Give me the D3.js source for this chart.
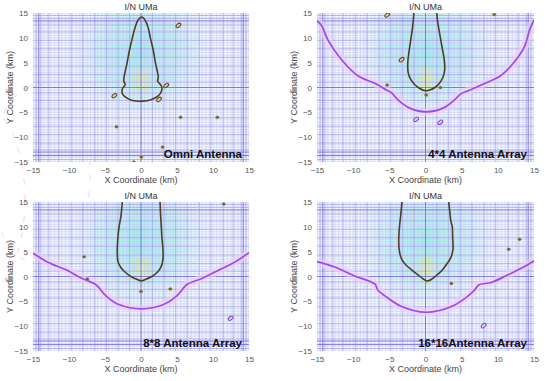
<!DOCTYPE html>
<html lang="en">
<head>
<meta charset="UTF-8">
<title>I/N UMa contours</title>
<script src="https://d3js.org/d3.v7.min.js"></script>
<style>
  body, html { margin: 0; padding: 0; background: #fff; overflow: hidden; }
  svg { display: block; font-family: "Liberation Sans", Arial, sans-serif; }
  .tick text { fill: #555; font-size: 8px; }
</style>
</head>
<body>
<svg width="550" height="381"></svg>
<script>
// ---- data (km) ----
const tickValues = [-15, -10, -5, 0, 5, 10, 15];
const panelLabels = ["Omni Antenna", "4*4 Antenna Array", "8*8 Antenna Array", "16*16Antenna Array"];

// I/N threshold contour (dark) per panel
const lobeOmni = [[0.1,14.2],[0.6,13.5],[1.0,12],[1.3,10],[1.7,7.5],[2.0,5],[2.3,3],[2.4,2],[2.3,1.3],[2.7,0.6],[2.9,0],[2.8,-0.9],[2.3,-1.8],[1.3,-2.5],[0.2,-2.75],[-1.2,-2.6],[-2.1,-2.0],[-2.6,-1.2],[-2.6,-0.3],[-2.2,0.6],[-2.4,1.3],[-2.3,2.5],[-2.0,4.5],[-1.6,7.5],[-1.2,10],[-0.8,12.2],[-0.4,13.6]];
const lobe4 = [[-1.6,15],[-1.8,12],[-2.0,10],[-2.3,7],[-2.45,5],[-2.4,3],[-2.1,1.8],[-1.5,0.6],[-0.8,-0.2],[0,-0.65],[0.6,-0.5],[1.3,0],[1.9,0.8],[2.4,2],[2.65,3.5],[2.6,5.5],[2.3,8],[2.0,10.5],[1.7,13],[1.55,15]];
const lobe8 = [[-2.6,15],[-2.8,12],[-3.05,10],[-3.25,7],[-3.3,5],[-3.2,3],[-2.8,1.8],[-2.3,1],[-1.4,0],[-0.5,-0.6],[0.05,-0.85],[0.6,-0.6],[1.5,0],[2.3,0.9],[2.8,2],[3.05,3.5],[3.05,5.5],[2.9,8],[2.8,10.5],[2.7,13],[2.65,15]];
const lobe16 = [[-3.25,15],[-3.45,12],[-3.6,10],[-3.7,7],[-3.6,5],[-3.3,3.5],[-2.7,2.3],[-1.8,1.2],[-1.0,0.3],[-0.3,-0.5],[0.2,-0.9],[0.8,-0.6],[1.5,0.2],[2.2,1.1],[2.9,2.4],[3.5,3.8],[3.8,5.5],[3.75,8],[3.7,10],[3.5,11.2],[3.4,12.5],[3.2,15]];

// bowl-shaped contour (purple) for the arrays
const bowl4 = [[-15,13.5],[-14.3,12.3],[-13.5,9.6],[-11.6,5.6],[-9.3,2.3],[-7.0,0.85],[-5.4,-0.5],[-4.7,-1.05],[-3.8,-2.5],[-2.4,-4.0],[0.1,-4.9],[2.65,-4.0],[4.0,-2.5],[4.95,-1.2],[5.9,-0.65],[7.7,0.5],[10.5,2.5],[12.3,5.2],[13.7,8.3],[14.4,11.6],[15,13.6]];
const bowl8 = [[-15,4.7],[-12.7,2.7],[-10.4,1.35],[-8.3,-0.3],[-6.4,-1.5],[-6.0,-2.0],[-4.8,-4.0],[-3.0,-5.7],[0.05,-6.5],[3.05,-5.7],[4.9,-4.0],[6.1,-2.0],[6.5,-1.5],[8.6,-0.3],[10.9,1.35],[12.8,2.7],[15,4.8]];
const bowl16 = [[-15,3.0],[-12.55,1.9],[-9.8,0.1],[-7.0,-1.5],[-6.6,-2.7],[-5.6,-3.9],[-3.3,-6.05],[0.1,-7.2],[3.6,-6.05],[5.9,-3.9],[6.8,-2.7],[7.35,-1.7],[9.1,-1.2],[11.4,0.34],[13.7,2.0],[15,3.2]];

// isolated spots [x, y, kind]  kind: d = dot, o = ring, p = pink ring
const spotsOmni = [[5.2,12.5,"o"],[3.5,0.4,"o"],[2.5,-2.4,"o"],[-3.7,-1.65,"o"],[-3.4,-7.9,"d"],[5.5,-6.0,"d"],[10.6,-6.0,"d"],[3.0,-12.0,"d"],[0.05,-14.0,"d"],[-1.0,-15,"d"]];
const spots4 = [[-5.3,14.6,"o"],[9.5,14.7,"d"],[-3.3,5.6,"o"],[-5.3,0.5,"d"],[0.1,-1.5,"d"],[2.05,0.0,"d"],[-1.3,-6.4,"p"],[2.05,-7.0,"p"]];
const spots8 = [[11.5,14.6,"d"],[-7.9,4.0,"d"],[-7.45,-0.5,"d"],[0,-3.0,"d"],[4.07,-2.5,"d"],[12.45,-8.4,"p"]];
const spots16 = [[11.5,5.5,"d"],[13.0,7.5,"d"],[3.57,-1.4,"d"],[8.04,-9.9,"p"]];

// heavier mesh lines (km)
const meshMidX = [-14.6,-13.9,-12.8,-11.4,-9.7,-8.1,-6.4,-4.8,-3.2,-1.6,1.6,3.2,4.8,6.4,8.1,9.7,11.4,12.8,13.9,14.6];
const meshMidY = [14.5,13.9,12.6,11.2,9.5,7.8,6.1,4.3,2.6,1.1,-1.1,-2.6,-4.3,-6.1,-7.8,-9.5,-11.2,-12.6,-14.5];
const meshDarkX = [-14.2,0,14.2];
const meshDarkY = [13.4,0,-13.0,-13.7];

const lobes = [lobeOmni, lobe4, lobe8, lobe16];
const bowls = [null, bowl4, bowl8, bowl16];
const spots = [spotsOmni, spots4, spots8, spots16];

// ---- layout ----
const svg = d3.select("svg");
const boxes = [
  {x0: 33, x1: 249, y0: 13, y1: 162},
  {x0: 317, x1: 534, y0: 13, y1: 162},
  {x0: 33, x1: 249, y0: 202, y1: 351},
  {x0: 317, x1: 534, y0: 202, y1: 351}
];

const defs = svg.append("defs");
const gCyan = defs.append("radialGradient").attr("id", "cyanGlow");
gCyan.append("stop").attr("offset", "0%").attr("stop-color", "#9ff0ea").attr("stop-opacity", 1);
gCyan.append("stop").attr("offset", "55%").attr("stop-color", "#bff4f0").attr("stop-opacity", 0.8);
gCyan.append("stop").attr("offset", "100%").attr("stop-color", "#e6fafb").attr("stop-opacity", 0);
const gYel = defs.append("radialGradient").attr("id", "yelGlow");
gYel.append("stop").attr("offset", "0%").attr("stop-color", "#f0f59a").attr("stop-opacity", 0.9);
gYel.append("stop").attr("offset", "55%").attr("stop-color", "#d4f2b0").attr("stop-opacity", 0.6);
gYel.append("stop").attr("offset", "100%").attr("stop-color", "#c8f4e0").attr("stop-opacity", 0);

// faint pink streaks left of / below the first panel
const streaks = svg.append("g").attr("fill", "none").attr("stroke", "#f7a0e6")
  .attr("stroke-width", 0.9).attr("stroke-dasharray", "6,10").attr("opacity", 0.6);
[[-20, 200, 45, 95], [40, 175, 50, 90]].forEach(([cx, cy, rx, ry]) => {
  streaks.append("ellipse").attr("cx", cx).attr("cy", cy).attr("rx", rx).attr("ry", ry);
});

boxes.forEach((b, i) => {
  const x = d3.scaleLinear().domain([-15, 15]).range([b.x0, b.x1]);
  const y = d3.scaleLinear().domain([-15, 15]).range([b.y1, b.y0]);
  const g = svg.append("g");

  defs.append("clipPath").attr("id", "clip" + i)
    .append("rect").attr("x", b.x0).attr("y", b.y0)
    .attr("width", b.x1 - b.x0).attr("height", b.y1 - b.y0);

  const plot = g.append("g").attr("clip-path", `url(#clip${i})`);
  plot.append("rect").attr("x", b.x0).attr("y", b.y0)
    .attr("width", b.x1 - b.x0).attr("height", b.y1 - b.y0).attr("fill", "#f1fbfd");

  // field colouring
  plot.append("ellipse").attr("cx", x(0)).attr("cy", y(7))
    .attr("rx", x(10) - x(0)).attr("ry", y(-7) - y(7)).attr("fill", "url(#cyanGlow)");
  plot.append("ellipse").attr("cx", x(0.2)).attr("cy", y(1.5))
    .attr("rx", x(1.8) - x(0)).attr("ry", y(-2.5) - y(1.5)).attr("fill", "url(#yelGlow)");

  // mesh
  const fine = d3.range(-15, 15.01, 0.5);
  const mesh = plot.append("g");
  fine.forEach(v => {
    mesh.append("line").attr("x1", x(v)).attr("x2", x(v)).attr("y1", b.y0).attr("y2", b.y1)
      .attr("stroke", "#c6c0f5").attr("stroke-width", 0.5);
    mesh.append("line").attr("y1", y(v)).attr("y2", y(v)).attr("x1", b.x0).attr("x2", b.x1)
      .attr("stroke", "#c6c0f5").attr("stroke-width", 0.5);
  });
  meshMidX.forEach(v => mesh.append("line").attr("x1", x(v)).attr("x2", x(v))
    .attr("y1", b.y0).attr("y2", b.y1).attr("stroke", "#a098ec").attr("stroke-width", 0.6));
  meshMidY.forEach(v => mesh.append("line").attr("y1", y(v)).attr("y2", y(v))
    .attr("x1", b.x0).attr("x2", b.x1).attr("stroke", "#a098ec").attr("stroke-width", 0.6));
  meshDarkX.forEach(v => mesh.append("line").attr("x1", x(v)).attr("x2", x(v))
    .attr("y1", b.y0).attr("y2", b.y1).attr("stroke", "#6d62dc").attr("stroke-width", 0.8));
  meshDarkY.forEach(v => mesh.append("line").attr("y1", y(v)).attr("y2", y(v))
    .attr("x1", b.x0).attr("x2", b.x1).attr("stroke", "#6d62dc").attr("stroke-width", 0.8));

  // contours
  if (bowls[i]) {
    const bl = d3.line().x(d => x(d[0])).y(d => y(d[1])).curve(d3.curveCatmullRom);
    plot.append("path").attr("d", bl(bowls[i])).attr("fill", "none")
      .attr("stroke", "#f7cdf0").attr("stroke-width", 8).attr("opacity", 0.6);
    plot.append("path").attr("d", bl(bowls[i])).attr("fill", "none")
      .attr("stroke", "#8b52ee").attr("stroke-width", 1.7);
  }
  const ll = d3.line().x(d => x(d[0])).y(d => y(d[1]))
    .curve(i === 0 ? d3.curveCatmullRomClosed : d3.curveCatmullRom);
  plot.append("path").attr("d", ll(lobes[i])).attr("fill", "none")
    .attr("stroke", "#4d3d22").attr("stroke-width", 1.6);

  spots[i].forEach(([sx, sy, k]) => {
    if (k === "d") {
      plot.append("ellipse").attr("cx", x(sx)).attr("cy", y(sy)).attr("rx", 1.8).attr("ry", 1.5)
        .attr("fill", "#6b5a35").attr("stroke", "#b9a66a").attr("stroke-width", 0.5);
    } else {
      plot.append("ellipse").attr("cx", x(sx)).attr("cy", y(sy)).attr("rx", 2.8).attr("ry", 1.6)
        .attr("transform", `rotate(-40 ${x(sx)} ${y(sy)})`)
        .attr("fill", k === "p" ? "#e2d6f6" : "#e0d49a")
        .attr("stroke", k === "p" ? "#7a48d8" : "#5a4528").attr("stroke-width", 1);
    }
  });

  // axes
  const ax = g.append("g").attr("transform", `translate(0,${b.y1 + 3})`)
    .call(d3.axisBottom(x).tickValues(tickValues).tickSize(0).tickPadding(2));
  ax.select(".domain").remove();
  const ay = g.append("g").attr("transform", `translate(${b.x0 - 3},0)`)
    .call(d3.axisLeft(y).tickValues(tickValues).tickSize(0).tickPadding(2));
  ay.select(".domain").remove();

  g.append("text").attr("x", (b.x0 + b.x1) / 2).attr("y", b.y0 - 3)
    .attr("text-anchor", "middle").attr("font-size", 9).attr("fill", "#333").text("I/N UMa");
  g.append("text").attr("x", (b.x0 + b.x1) / 2).attr("y", b.y1 + 21)
    .attr("text-anchor", "middle").attr("font-size", 9).attr("fill", "#444").text("X Coordinate (km)");
  g.append("text").attr("transform", `translate(${b.x0 - 20},${(b.y0 + b.y1) / 2}) rotate(-90)`)
    .attr("text-anchor", "middle").attr("font-size", 9).attr("fill", "#444").text("Y Coordinate (km)");

  g.append("text").attr("x", b.x1 - 7).attr("y", b.y1 - 4)
    .attr("text-anchor", "end").attr("font-size", 11.5).attr("font-weight", "bold")
    .attr("fill", "#111").text(panelLabels[i]);
});
</script>
</body>
</html>
